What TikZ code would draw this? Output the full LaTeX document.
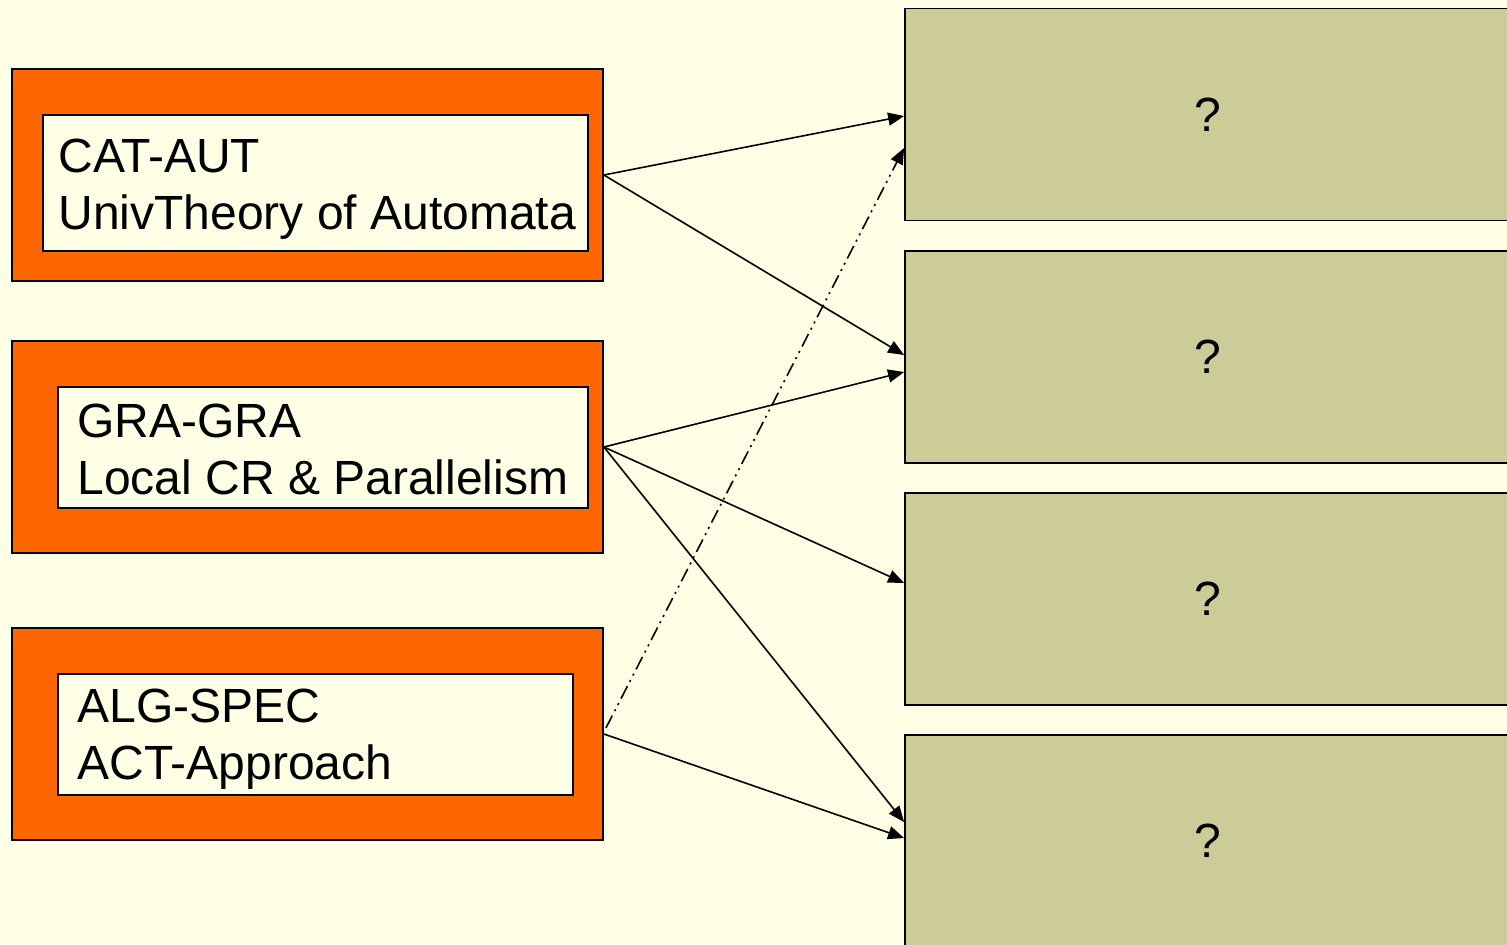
\documentclass[tikz,border=0pt]{standalone}
\usepackage{fontspec}
\setmainfont{Liberation Sans}
\usetikzlibrary{arrows.meta}
\definecolor{paper}{HTML}{FFFFE5}
\definecolor{topicorange}{HTML}{FF6600}
\definecolor{goalolive}{HTML}{CCCC99}
\begin{document}
\begin{tikzpicture}[x=0.5pt,y=-0.5pt,
  outerbox/.style={draw=black, line width=0.9pt, fill=topicorange, inner sep=0pt,
    minimum width=295.5pt, minimum height=106pt},
  innerbox/.style={draw=black, line width=0.9pt, fill=paper, inner sep=0pt},
  topictext/.style={anchor=west, align=left, inner sep=0pt,
    font=\fontsize{24}{28.5}\selectfont},
  goalbox/.style={draw=black, line width=0.9pt, fill=goalolive, inner sep=0pt,
    minimum width=303pt, minimum height=106pt,
    font=\fontsize{24}{28}\selectfont},
  link/.style={line width=0.8pt, -{Triangle[length=8pt,width=6.5pt]}},
  hint/.style={link, dash pattern=on 7pt off 2.5pt on 1pt off 2.5pt on 1pt off 2.5pt}]
  \clip (0,0) rectangle (1507,944);
  \fill[paper] (0,0) rectangle (1507,944);

  % topic boxes on the left
  \node[outerbox] (o1) at (307.5,175) {};
  \node[outerbox] (o2) at (307.5,447) {};
  \node[outerbox] (o3) at (307.5,734) {};
  \node[innerbox, minimum width=272.5pt, minimum height=68pt] (i1) at (315.5,183) {};
  \node[innerbox, minimum width=265pt, minimum height=60.5pt] (i2) at (323,447.5) {};
  \node[innerbox, minimum width=257.5pt, minimum height=60.5pt] (i3) at (315.5,734.5) {};
  \node[topictext] (t1) at ([xshift=8pt,yshift=-3pt]i1.west) {CAT-AUT\\UnivTheory of Automata};
  \node[topictext] (t2) at ([xshift=10pt,yshift=-0.8pt]i2.west) {GRA-GRA\\Local CR \& Parallelism};
  \node[topictext] (t3) at ([xshift=10pt,yshift=-2.6pt]i3.west) {ALG-SPEC\\ACT-Approach};

  % open questions on the right
  \node[goalbox] (g1) at (1208,114.5) {?};
  \node[goalbox] (g2) at (1208,357) {?};
  \node[goalbox] (g3) at (1208,599) {?};
  \node[goalbox] (g4) at (1208,841) {?};

  % links
  \draw[link] (o1.east) -- ([yshift=-0.75pt]g1.west);
  \draw[link] (o1.east) -- ([yshift=1pt]g2.west);
  \draw[link] (o2.east) -- ([yshift=-7.5pt]g2.west);
  \draw[link] (o2.east) -- ([yshift=8pt]g3.west);
  \draw[link] (o2.east) -- ([yshift=9.5pt]g4.west);
  \draw[link] (o3.east) -- ([yshift=1.5pt]g4.west);
  \draw[hint] ([xshift=1pt,yshift=3pt]o3.east) -- ([yshift=-16.75pt]g1.west);
\end{tikzpicture}
\end{document}
